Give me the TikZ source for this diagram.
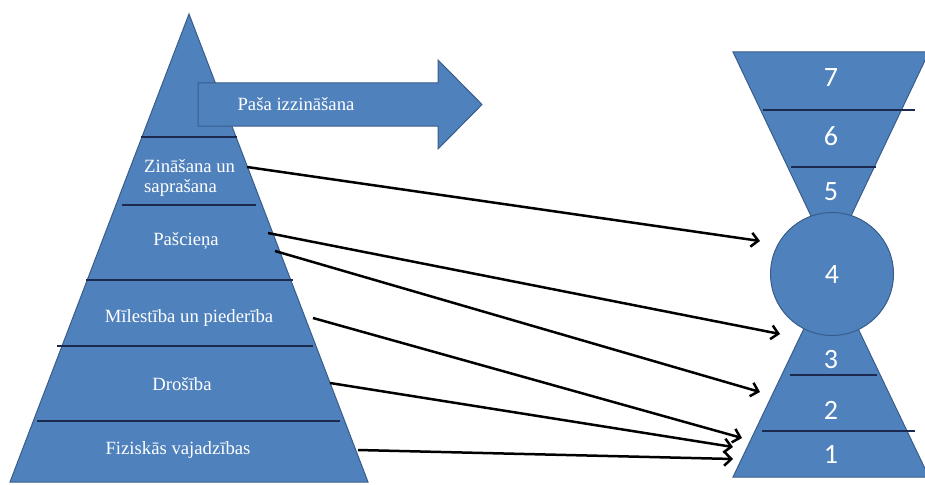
\documentclass[tikz,border=0pt]{standalone}
\usepackage{fontspec}
\setmainfont{Liberation Serif}
\newfontfamily\numfont{Carlito}
\usetikzlibrary{arrows.meta}
\definecolor{shapeblue}{HTML}{4F81BD}
\definecolor{shapeedge}{HTML}{385D8A}
\definecolor{divider}{HTML}{1B2A4E}
\tikzset{
  block/.style={fill=shapeblue, draw=shapeedge, line width=1pt, line join=miter},
  band/.style={draw=divider, line width=1.6pt},
  lvl/.style={text=white, font=\fontsize{18.7}{20}\selectfont, inner sep=0pt, align=left},
  num/.style={text=white, font=\numfont\fontsize{28}{30}\selectfont, inner sep=0pt},
  link/.style={draw=black, line width=2.5pt, -{Straight Barb[length=7pt,width=14pt]}},
}
\begin{document}
\begin{tikzpicture}[x=1pt,y=-1pt]
\useasboundingbox (0,0) rectangle (925,484);

% needs pyramid
\draw[block] (189,14) -- (368,482) -- (10,482) -- cycle;
\draw[band] (141,137) -- (237,137);
\draw[band] (122,205) -- (256,205);
\draw[band] (86,280) -- (293,280);
\draw[band] (57,346) -- (313,346);
\draw[band] (37,421) -- (340,421);

% self-knowledge arrow
\draw[block] (198,83) -- (438,83) -- (438,60) -- (482,104.5) -- (438,149)
  -- (438,126) -- (198,126) -- cycle;
\node[lvl] (self) at (296,104) {Paša izzināšana};

% level labels
\node[lvl, anchor=west] (know) at (144,178) {Zināšana un\\saprašana};
\node[lvl] (esteem) at (186,241) {Pašcieņa};
\node[lvl] (love) at (189,318) {Mīlestība un piederība};
\node[lvl] (safety) at (182,384) {Drošība};
\node[lvl] (body) at (178,450) {Fiziskās vajadzības};

% hourglass of numbered levels
\draw[block] (733,52) -- (929,52) -- (831,258) -- cycle;
\draw[block] (831,272) -- (929,477) -- (733,477) -- cycle;
\draw[block] (832,274) circle[radius=61.5];
\draw[band] (763,110) -- (915,110);
\draw[band] (791,167) -- (876,167);
\draw[band] (790,375) -- (877,375);
\draw[band] (762,431) -- (915,431);

\node[num] (n7) at (831,78) {7};
\node[num] (n6) at (831,136) {6};
\node[num] (n5) at (831,192) {5};
\node[num] (n4) at (832,275) {4};
\node[num] (n3) at (831,360) {3};
\node[num] (n2) at (831,410) {2};
\node[num] (n1) at (831,454) {1};

% connector ends
\coordinate (s1) at (247,167);
\coordinate (s2) at (268,233);
\coordinate (s3) at (275,251);
\coordinate (s4) at (313,318);
\coordinate (s5) at (330,383);
\coordinate (s6) at (358,450);
\coordinate (e1) at (760,241);
\coordinate (e2) at (780,334);
\coordinate (e3) at (760,392);
\coordinate (e4) at (742,438);
\coordinate (e5) at (733,447);
\coordinate (e6) at (733,459);

\draw[link] (s1) -- (e1);
\draw[link] (s2) -- (e2);
\draw[link] (s3) -- (e3);
\draw[link] (s4) -- (e4);
\draw[link] (s5) -- (e5);
\draw[link] (s6) -- (e6);
\end{tikzpicture}
\end{document}
